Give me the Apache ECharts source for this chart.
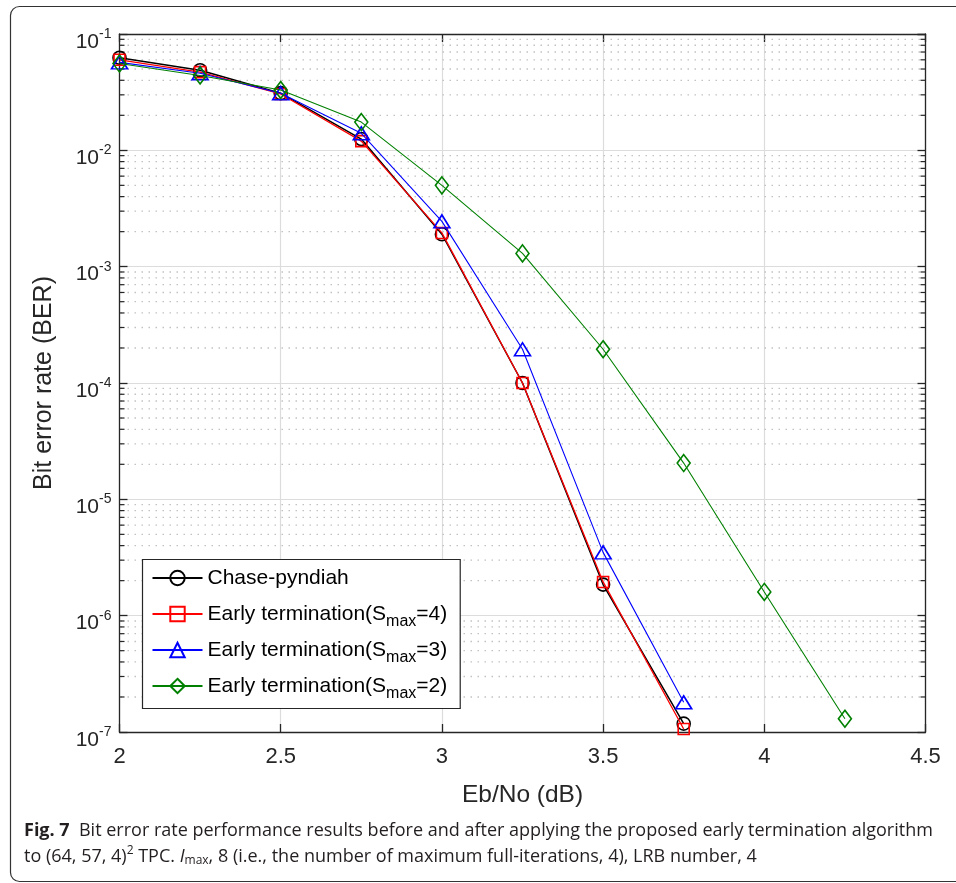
<!DOCTYPE html>
<html>
<head>
<meta charset="utf-8">
<script src="https://cdn.jsdelivr.net/npm/echarts@6/dist/echarts.min.js"></script>
<style>
html,body{margin:0;padding:0;background:#fff;}
#chart{width:956px;height:883px;}
</style>
</head>
<body>
<div id="chart"></div>
<script>
// ---- data ----
const ebno = [2, 2.25, 2.5, 2.75, 3, 3.25, 3.5, 3.75, 4, 4.25];
const chasePyndiah = [0.0625, 0.0488, 0.031, 0.0125, 0.0019, 1.0e-4, 1.85e-6, 1.18e-7];
const earlySmax4 = [0.060, 0.047, 0.0305, 0.012, 0.00195, 1.0e-4, 1.95e-6, 1.06e-7];
const earlySmax3 = [0.057, 0.046, 0.031, 0.014, 2.45e-3, 1.95e-4, 3.5e-6, 1.8e-7];
const earlySmax2 = [0.0557, 0.044, 0.033, 0.0175, 5.0e-3, 1.3e-3, 1.95e-4, 2.05e-5, 1.6e-6, 1.3e-7];
const seriesNames = ['Chase-pyndiah', 'Early termination(S_max=4)', 'Early termination(S_max=3)', 'Early termination(S_max=2)'];
const xTicks = [2, 2.5, 3, 3.5, 4, 4.5];
const yDecades = [-7, -6, -5, -4, -3, -2, -1];
const minorMultipliers = [2, 3, 4, 5, 6, 7, 8, 9];
const xAxisName = 'Eb/No (dB)';
const yAxisName = 'Bit error rate (BER)';

const xMin = xTicks[0], xMax = xTicks[xTicks.length - 1];
const yMin = Math.pow(10, yDecades[0]), yMax = Math.pow(10, yDecades[yDecades.length - 1]);

const minorValues = [];
yDecades.slice(0, -1).forEach(d => minorMultipliers.forEach(m => minorValues.push(m * Math.pow(10, d))));

function pairs(vals) { return vals.map((v, i) => [ebno[i], v]); }

const AX = '#262626';
const FONT = 'Liberation Sans, Arial, Helvetica, sans-serif';
const CAP = 'Open Sans, Noto Sans, sans-serif';

const axisCommon = {
  axisLine: { show: true, onZero: false, lineStyle: { color: AX, width: 1.3 } },
  axisTick: { show: true, inside: true, length: 8, lineStyle: { color: AX, width: 1.3 } },
};

const styles = [
  { color: '#000000', symbol: 'circle', size: 13, width: 1.5 },
  { color: '#ff0000', symbol: 'rect', size: 11, width: 1.3 },
  { color: '#0000ff', symbol: 'triangle', size: [16, 13], width: 1.1 },
  { color: '#008000', symbol: 'diamond', size: [13, 17], width: 1.1 },
];
const datasets = [chasePyndiah, earlySmax4, earlySmax3, earlySmax2];

const lineSeries = datasets.map((d, i) => ({
  name: seriesNames[i],
  type: 'line',
  xAxisIndex: 0,
  yAxisIndex: 0,
  data: pairs(d),
  symbol: styles[i].symbol,
  symbolSize: styles[i].size,
  showAllSymbol: true,
  lineStyle: { color: styles[i].color, width: styles[i].width },
  itemStyle: { color: 'rgba(0,0,0,0)', borderColor: styles[i].color, borderWidth: 1.6 },
  emphasis: { disabled: true },
  z: 3 + i,
  animation: false
}));

const minorSeries = {
  type: 'custom',
  name: 'minor',
  xAxisIndex: 0,
  yAxisIndex: 0,
  data: minorValues.map(v => [xMin, v]),
  silent: true,
  z: 1,
  animation: false,
  renderItem: function (params, api) {
    const v = api.value(1);
    const p1 = api.coord([xMin, v]);
    const p2 = api.coord([xMax, v]);
    return {
      type: 'group',
      children: [
        { type: 'line', shape: { x1: p1[0] + 1, y1: p1[1], x2: p2[0] - 1, y2: p2[1] },
          style: { stroke: '#c2c2c2', lineWidth: 1.3, lineDash: [1.5, 5.5] } },
        { type: 'line', shape: { x1: p1[0], y1: p1[1], x2: p1[0] + 5, y2: p1[1] },
          style: { stroke: AX, lineWidth: 1.2 } },
        { type: 'line', shape: { x1: p2[0] - 5, y1: p2[1], x2: p2[0], y2: p2[1] },
          style: { stroke: AX, lineWidth: 1.2 } }
      ]
    };
  }
};

const legendFormatter = name => name.replace('S_max', 'S{sub|max}');

const option = {
  backgroundColor: '#ffffff',
  animation: false,
  grid: { left: 119.5, top: 34, right: 30.5, bottom: 151, containLabel: false },
  xAxis: [
    Object.assign({
      type: 'value', min: xMin, max: xMax, interval: 0.5, position: 'bottom',
      splitLine: { show: true, lineStyle: { color: '#dcdcdc', width: 1.2 } },
      axisLabel: { show: true, color: AX, fontSize: 22, fontFamily: FONT, margin: 14, formatter: v => String(v) },
      name: xAxisName, nameLocation: 'middle', nameGap: 51,
      nameTextStyle: { fontSize: 24.5, color: AX, fontFamily: FONT }
    }, axisCommon),
    Object.assign({
      type: 'value', min: xMin, max: xMax, interval: 0.5, position: 'top',
      splitLine: { show: false }, axisLabel: { show: false }
    }, axisCommon)
  ],
  yAxis: [
    Object.assign({
      type: 'log', logBase: 10, min: yMin, max: yMax, interval: 1, position: 'left',
      splitLine: { show: true, lineStyle: { color: '#dcdcdc', width: 1.2 } },
      axisLabel: {
        show: true, margin: 8, color: AX, fontFamily: FONT,
        formatter: v => '{b|10}{s|' + Math.round(Math.log10(v)) + '}',
        rich: {
          b: { fontSize: 21, color: AX, fontFamily: FONT, padding: [16, 0, 0, 0] },
          s: { fontSize: 14, color: AX, fontFamily: FONT, padding: [0, 0, 0, 0] }
        }
      },
      name: yAxisName, nameLocation: 'middle', nameGap: 63, nameRotate: 90,
      nameTextStyle: { fontSize: 25, color: AX, fontFamily: FONT }
    }, axisCommon),
    Object.assign({
      type: 'log', logBase: 10, min: yMin, max: yMax, interval: 1, position: 'right',
      splitLine: { show: false }, axisLabel: { show: false }
    }, axisCommon)
  ],
  legend: {
    show: true,
    data: seriesNames,
    orient: 'vertical',
    left: 142.5,
    top: 559.5,
    backgroundColor: '#ffffff',
    borderColor: AX,
    borderWidth: 1.2,
    padding: [1, 13, 5, 9],
    itemGap: 1,
    itemWidth: 50,
    itemHeight: 18,
    selectedMode: false,
    formatter: legendFormatter,
    textStyle: {
      fontSize: 21, color: '#000', fontFamily: FONT, lineHeight: 35,
      rich: {
        sub: { fontSize: 16, color: '#000', fontFamily: FONT, padding: [16, 0, 0, 0] }
      }
    }
  },
  series: [minorSeries].concat(lineSeries),
  graphic: [
    { type: 'rect', shape: { x: 10.5, y: 6.5, width: 960, height: 875, r: 9 },
      style: { fill: 'none', stroke: '#333', lineWidth: 1.2 }, silent: true, z: -10 },
    { type: 'text', left: 24, top: 822,
      style: {
        text: '{b|Fig. 7}  Bit error rate performance results before and after applying the proposed early termination algorithm',
        fontSize: 18, fontFamily: CAP, fill: '#231f20',
        rich: { b: { fontWeight: 'bold', fontSize: 18, fontFamily: CAP, fill: '#231f20' } }
      } },
    { type: 'text', left: 24, top: 845,
      style: {
        text: 'to (64, 57, 4){sup|2} TPC. {it|I}{sub|max}, 8 (i.e., the number of maximum full-iterations, 4), LRB number, 4',
        fontSize: 18, fontFamily: CAP, fill: '#231f20',
        rich: {
          sup: { fontSize: 12, fontFamily: CAP, fill: '#231f20', padding: [0, 0, 12, 0] },
          it: { fontSize: 18, fontStyle: 'italic', fontFamily: CAP, fill: '#231f20' },
          sub: { fontSize: 12, fontFamily: CAP, fill: '#231f20', padding: [8, 0, 0, 0] }
        }
      } }
  ]
};

const chart = echarts.init(document.getElementById('chart'), null, { renderer: 'canvas' });
chart.setOption(option);
</script>
</body>
</html>
